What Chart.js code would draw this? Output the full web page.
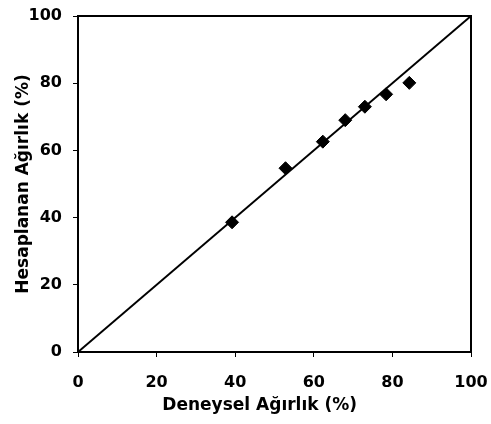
<!DOCTYPE html>
<html>
<head>
<meta charset="utf-8">
<script src="https://cdn.jsdelivr.net/npm/chart.js@4"></script>
<style>
  html, body { margin: 0; padding: 0; background: #fff; }
  #wrap { width: 491px; height: 424px; }
</style>
</head>
<body>
<div id="wrap"><canvas id="c" width="491" height="424"></canvas></div>
<script>
// Data
const experimental = [39.2, 52.8, 62.3, 68.0, 73.0, 78.4, 84.3];
const calculated   = [38.6, 54.7, 62.6, 69.0, 73.0, 76.7, 80.1];
const diagonalX = [0, 100];
const diagonalY = [0, 100];
const tickValues = [0, 20, 40, 60, 80, 100];
const xTitle = "Deneysel Ağırlık (%)";
const yTitle = "Hesaplanan Ağırlık (%)";

const points = experimental.map((x, i) => ({ x: x, y: calculated[i] }));
const diag = diagonalX.map((x, i) => ({ x: x, y: diagonalY[i] }));

const framePlugin = {
  id: 'frame',
  afterDatasetsDraw(chart) {
    const { ctx, chartArea: a } = chart;
    ctx.save();
    ctx.strokeStyle = '#000';
    ctx.lineWidth = 2;
    ctx.strokeRect(a.left, a.top, a.right - a.left, a.bottom - a.top);
    ctx.restore();
  }
};

const tickFont = { family: 'DejaVu Sans', weight: 'bold', size: 16 };
const titleFont = { family: 'DejaVu Sans', weight: 'bold', size: 17 };

new Chart(document.getElementById('c'), {
  type: 'scatter',
  data: {
    datasets: [
      {
        label: 'diagonal',
        data: diag,
        showLine: true,
        borderColor: '#000',
        borderWidth: 2,
        pointRadius: 0,
        fill: false
      },
      {
        label: 'points',
        data: points,
        pointStyle: 'rectRot',
        pointRadius: 6.5,
        pointHoverRadius: 6.5,
        backgroundColor: '#000',
        borderColor: '#000',
        borderWidth: 1
      }
    ]
  },
  options: {
    responsive: false,
    animation: false,
    events: [],
    layout: { padding: { top: 16, right: 20, left: 0, bottom: 0 } },
    plugins: { legend: { display: false }, tooltip: { enabled: false } },
    scales: {
      x: {
        type: 'linear',
        min: 0, max: 100,
        afterBuildTicks(scale) { scale.ticks = tickValues.map(v => ({ value: v })); },
        afterFit(scale) { scale.height = 72; scale.paddingLeft = 0; scale.paddingRight = 0; },
        ticks: { color: '#000', font: tickFont, padding: 16, maxRotation: 0 },
        grid: { drawOnChartArea: false, drawTicks: true, tickLength: 5, tickColor: '#000', tickWidth: 1 },
        border: { display: true, color: '#000', width: 2 },
        title: { display: true, text: xTitle + '     ', color: '#000', font: titleFont, padding: { top: 0, bottom: 8 } }
      },
      y: {
        type: 'linear',
        min: 0, max: 100,
        afterBuildTicks(scale) { scale.ticks = tickValues.map(v => ({ value: v })); },
        afterFit(scale) { scale.width = 78; scale.paddingTop = 0; scale.paddingBottom = 0; },
        ticks: { color: '#000', font: tickFont, padding: 11 },
        grid: { drawOnChartArea: false, drawTicks: true, tickLength: 5, tickColor: '#000', tickWidth: 1 },
        border: { display: true, color: '#000', width: 2 },
        title: { display: true, text: yTitle, color: '#000', font: titleFont, padding: { top: 13, bottom: 0 } }
      }
    }
  },
  plugins: [framePlugin]
});
</script>
</body>
</html>
